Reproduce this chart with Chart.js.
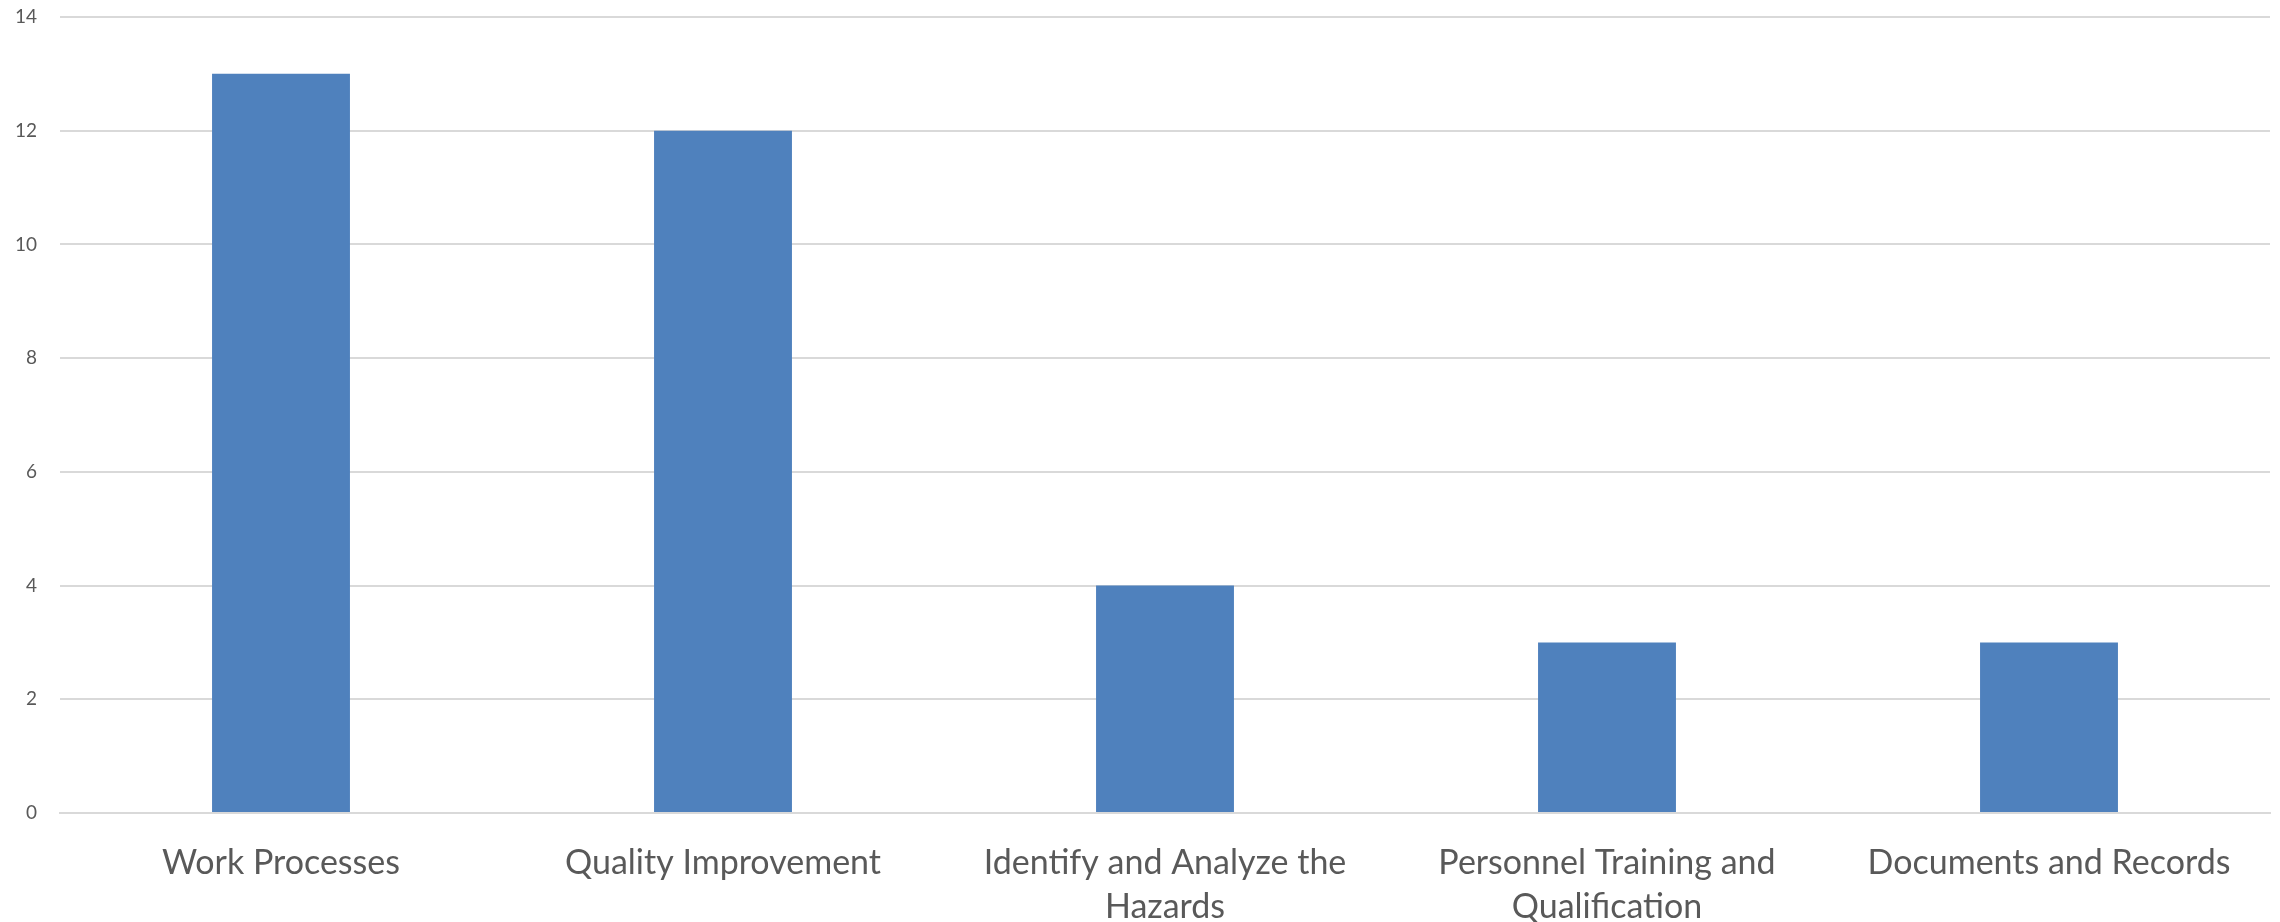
<!DOCTYPE html>
<html>
<head>
<meta charset="utf-8">
<script src="https://cdn.jsdelivr.net/npm/chart.js@4/dist/chart.umd.min.js"></script>
<style>
  html, body { margin: 0; padding: 0; background: #fff; }
</style>
</head>
<body>
<canvas id="chart" width="2280" height="922"></canvas>
<script>
// categories (wrapped as shown in the picture)
const categories = [
  'Work Processes',
  'Quality Improvement',
  ['Identify and Analyze the', 'Hazards'],
  ['Personnel Training and', 'Qualification'],
  'Documents and Records'
];
const counts = [13, 12, 4, 3, 3];
const yTicks = [0, 2, 4, 6, 8, 10, 12, 14];

const gridColor = '#d9d9d9';
const textColor = '#595959';

new Chart(document.getElementById('chart'), {
  type: 'bar',
  data: {
    labels: categories,
    datasets: [{
      data: counts,
      backgroundColor: '#4f81bd',
      borderWidth: 0,
      categoryPercentage: 1,
      barPercentage: 0.312
    }]
  },
  options: {
    responsive: false,
    devicePixelRatio: 1,
    animation: false,
    layout: { padding: { top: 17, right: 10, left: 0, bottom: 0 } },
    plugins: { legend: { display: false }, tooltip: { enabled: false } },
    scales: {
      x: {
        grid: { display: false, drawTicks: false },
        border: { display: true, color: gridColor, width: 2 },
        ticks: {
          color: textColor,
          padding: 28,
          maxRotation: 0,
          autoSkip: false,
          font: { family: 'Lato', size: 34, lineHeight: 1.3 }
        },
        afterFit: (scale) => { scale.height = 109; }
      },
      y: {
        min: 0,
        max: 14,
        afterBuildTicks: (scale) => { scale.ticks = yTicks.map(v => ({ value: v })); },
        grid: { color: gridColor, lineWidth: 2, drawTicks: false },
        border: { display: false },
        ticks: {
          color: textColor,
          padding: 23,
          font: { family: 'Lato', size: 19 }
        },
        afterFit: (scale) => {
          scale.width = 60;
          // tick padding would otherwise push the plot top down
          scale.paddingTop = 0;
          scale.paddingBottom = 0;
        }
      }
    }
  }
});
</script>
</body>
</html>
